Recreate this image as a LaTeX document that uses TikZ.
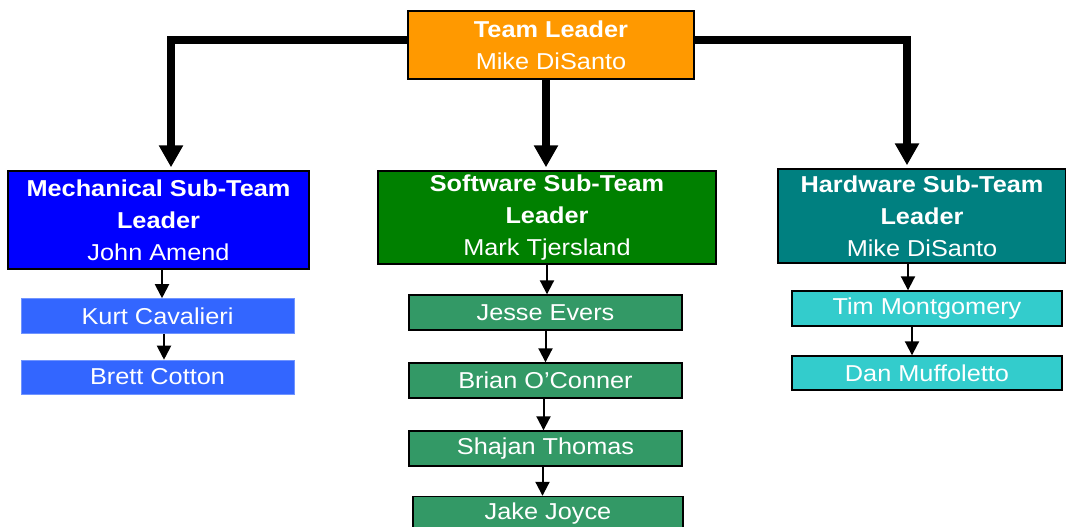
\documentclass[tikz,border=0pt]{standalone}
\usepackage{fontspec}
\setmainfont{Liberation Sans}[FakeStretch=1.1]
\usetikzlibrary{arrows.meta}

\definecolor{leadorange}{HTML}{FF9900}
\definecolor{mechblue}{HTML}{0000FF}
\definecolor{mechlight}{HTML}{3366FF}
\definecolor{softgreen}{HTML}{008000}
\definecolor{softlight}{HTML}{339966}
\definecolor{hardteal}{HTML}{008080}
\definecolor{hardlight}{HTML}{33CCCC}

\tikzset{
  box/.style={draw=black, line width=1.4pt, inner sep=0pt, text=white,
    align=center, font=\fontsize{23}{32}\selectfont},
  headbox/.style={box, minimum height=#1},
  member/.style={box, minimum width=273pt, minimum height=35pt},
  bigarrow/.style={line width=7.5pt, line join=miter,
    -{Triangle[width=23pt,length=22pt]}, shorten >=3pt},
  smallarrow/.style={line width=2pt, -{Triangle[width=14pt,length=14pt]}}
}

\begin{document}
\begin{tikzpicture}[x=1pt,y=-1pt]
\useasboundingbox (0,0) rectangle (1066,527);

% top level
\node[box, fill=leadorange, minimum width=286pt, minimum height=68pt] (lead) at (551,45)
  {\textbf{Team Leader}\\Mike DiSanto};

% sub-team leaders
\node[box, fill=mechblue, minimum width=301pt, minimum height=98pt] (mech) at (158.5,220)
  {\textbf{Mechanical Sub-Team}\\\textbf{Leader}\\John Amend};
\node[box, fill=softgreen, minimum width=338pt, minimum height=93pt] (soft) at (547,217.5)
  {\textbf{Software Sub-Team}\\\textbf{Leader}\\Mark Tjersland};
\node[box, fill=hardteal, minimum width=288pt, minimum height=94pt] (hard) at (922,216)
  {\textbf{Hardware Sub-Team}\\\textbf{Leader}\\Mike DiSanto};

% mechanical members
\node[member, draw=mechlight!70!white, line width=0.6pt, fill=mechlight] (kurt) at (157.5,316) {Kurt Cavalieri};
\node[member, draw=mechlight!70!white, line width=0.6pt, fill=mechlight, minimum height=34pt] (brett) at (157.5,377) {Brett Cotton};

% software members
\node[member, fill=softlight] (jesse) at (545.5,312.5) {Jesse Evers};
\node[member, fill=softlight] (brian) at (545.5,380.5) {Brian O'Conner};
\node[member, fill=softlight] (shajan) at (545.5,448.5) {Shajan Thomas};
\node[member, fill=softlight, minimum width=270pt] (jake) at (548,514) {Jake Joyce};

% hardware members
\node[member, fill=hardlight, minimum width=270pt] (tim) at (927,308.5) {Tim Montgomery};
\node[member, fill=hardlight, minimum width=270pt, minimum height=34pt] (dan) at (927,373) {Dan Muffoletto};

% connectors from the team leader
\draw[bigarrow] ([yshift=5pt]lead.west) -| ([xshift=12.5pt]mech.north);
\draw[bigarrow] ([xshift=-5pt]lead.south) -- ([xshift=-5pt]lead.south |- soft.north);
\draw[bigarrow] ([yshift=5pt]lead.east) -| ([xshift=-15pt]hard.north);

% mechanical chain
\draw[smallarrow] ([xshift=3.5pt]mech.south) -- ([xshift=3.5pt]mech.south |- kurt.north);
\draw[smallarrow] ([xshift=6.5pt]kurt.south) -- ([xshift=6.5pt]kurt.south |- brett.north);

% software chain
\draw[smallarrow] (soft.south) -- (soft.south |- jesse.north);
\draw[smallarrow] (jesse.south) -- (jesse.south |- brian.north);
\draw[smallarrow] ([xshift=-2pt]brian.south) -- ([xshift=-2pt]brian.south |- shajan.north);
\draw[smallarrow] ([xshift=-3pt]shajan.south) -- ([xshift=-3pt]shajan.south |- jake.north);

% hardware chain
\draw[smallarrow] ([xshift=-14pt]hard.south) -- ([xshift=-14pt]hard.south |- tim.north);
\draw[smallarrow] ([xshift=-15pt]tim.south) -- ([xshift=-15pt]tim.south |- dan.north);
\end{tikzpicture}
\end{document}
